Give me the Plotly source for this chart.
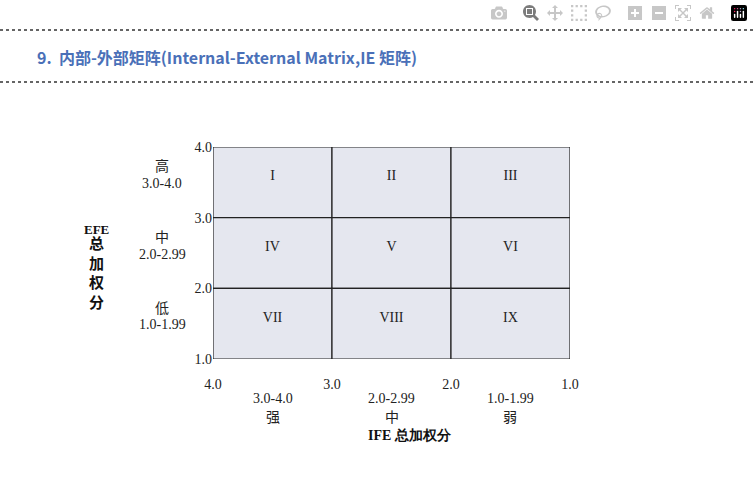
import plotly.graph_objects as go

ife_bounds = [4.0, 3.0, 2.0, 1.0]
efe_bounds = [4.0, 3.0, 2.0, 1.0]
cell_labels = [["I", "II", "III"], ["IV", "V", "VI"], ["VII", "VIII", "IX"]]
ife_groups = [("3.0-4.0", "强"), ("2.0-2.99", "中"), ("1.0-1.99", "弱")]
efe_groups = [("高", "3.0-4.0"), ("中", "2.0-2.99"), ("低", "1.0-1.99")]

W, H = 753, 478
serif = "Liberation Serif, Times New Roman, serif"
cjk = "Noto Sans CJK SC"
L, R, T, B = 213, 570, 147, 359


def px(x):
    return x / W


def py(y):
    return 1 - y / H


def xpix(v):  # IFE value -> pixel, via axis mapping (range 4..1)
    return L + (4 - v) / 3 * (R - L)


def ypix(v):
    return B - (v - 1) / 3 * (B - T)


fig = go.Figure()
xs, ys, ts = [], [], []
shapes = []
for i in range(3):
    for j in range(3):
        x0, x1 = ife_bounds[j], ife_bounds[j + 1]
        y0, y1 = efe_bounds[i], efe_bounds[i + 1]
        shapes.append(dict(type="rect", xref="x", yref="y", x0=x0, x1=x1, y0=y0, y1=y1,
                           fillcolor="#e5e7ef", line=dict(color="#222", width=1.2), layer="below"))
        xs.append((x0 + x1) / 2)
        ys.append((y0 + y1) / 2 + 0.08)
        ts.append(cell_labels[i][j])
fig.add_trace(go.Scatter(x=xs, y=ys, text=ts, mode="text",
                         textfont=dict(family=serif, size=14, color="#222"), hoverinfo="skip"))

for yp in [30, 82]:
    shapes.append(dict(type="line", xref="paper", yref="paper", x0=0, x1=1, y0=py(yp), y1=py(yp),
                       line=dict(color="#333", width=1.5, dash="dot")))


def A(x, y, text, font, xanchor="center"):
    return dict(x=px(x), y=py(y), xref="paper", yref="paper", xanchor=xanchor, yanchor="middle",
                showarrow=False, text=text, font=font)


f_serif = dict(family=serif, size=14, color="#222")
f_cjk = dict(family=cjk, size=14, color="#222")
ann = [A(35, 57, "<b>9.  内部-外部矩阵(Internal-External Matrix,IE 矩阵)</b>",
         dict(family=cjk, size=16, color="#4a70b8"), xanchor="left")]
for j, (rng, nm) in enumerate(ife_groups):
    xc = xpix((ife_bounds[j] + ife_bounds[j + 1]) / 2)
    ann.append(A(xc, 398, rng, f_serif))
    ann.append(A(xc, 416, nm, f_cjk))
for i, (nm, rng) in enumerate(efe_groups):
    yc = ypix((efe_bounds[i] + efe_bounds[i + 1]) / 2)
    ann.append(A(162, yc - 17, nm, f_cjk))
    ann.append(A(162, yc + 1, rng, f_serif))
ann.append(A(96, 229, "<b>EFE</b>", dict(family=serif, size=13, color="#111")))
ann.append(A(96, 272, "<b>总<br>加<br>权<br>分</b>", dict(family=cjk, size=15, color="#111")))
ann.append(A(410, 435, "<b>IFE 总加权分</b>", dict(family=serif, size=14, color="#111")))

fig.update_layout(
    width=W, height=H, autosize=False, margin=dict(l=0, r=0, t=0, b=0, autoexpand=False),
    paper_bgcolor="white", plot_bgcolor="white", showlegend=False,
    shapes=shapes, annotations=ann,
    xaxis=dict(domain=[L / W, R / W], range=[4, 1], tickvals=ife_bounds,
               ticktext=[f"{v:.1f}" for v in ife_bounds], showgrid=False, zeroline=False,
               tickfont=f_serif, ticks="outside", ticklen=12, tickcolor="rgba(0,0,0,0)",
               automargin=False),
    yaxis=dict(domain=[1 - B / H, 1 - T / H], range=[1, 4], tickvals=efe_bounds,
               ticktext=[f"{v:.1f}" for v in efe_bounds], showgrid=False, zeroline=False,
               tickfont=f_serif, ticks="", automargin=False),
)
fig.write_html("out.html", post_script="document.body.style.margin='0';")
